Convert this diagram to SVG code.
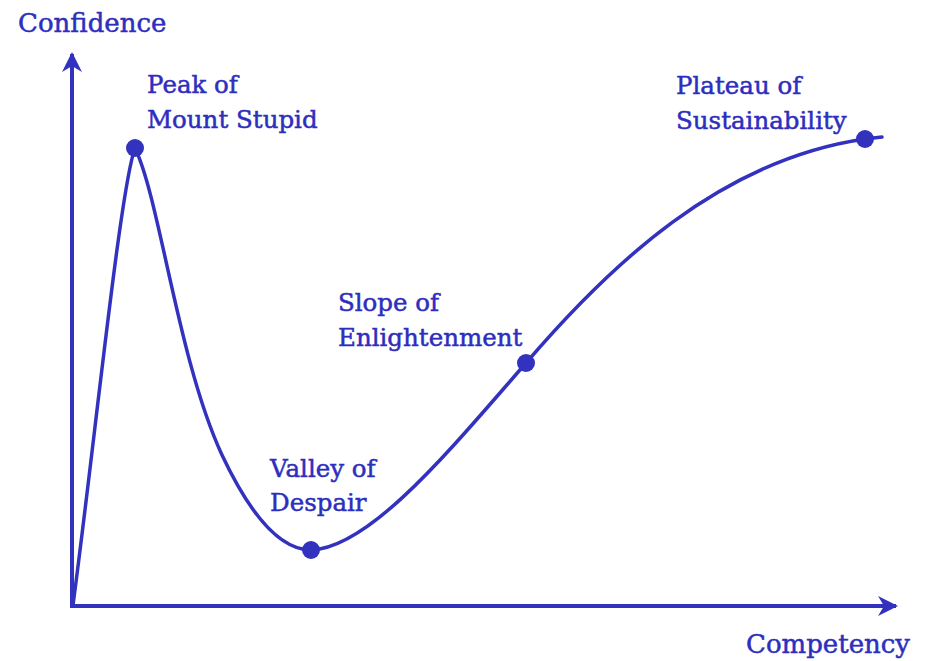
<svg xmlns="http://www.w3.org/2000/svg" width="930" height="661" viewBox="0 0 930 661">
<style>
.t{font-family:"DejaVu Serif","Liberation Serif",serif;font-size:24.5px;fill:#2e2ebe;stroke:#2e2ebe;stroke-width:0.5}
.axl{font-size:26px}
.ax{stroke:#3232be;stroke-width:4;fill:none}
.cv{stroke:#3232be;stroke-width:3.5;fill:none;stroke-linecap:round;stroke-linejoin:round}
.dot{fill:#3232be}
</style>
<defs>
<marker id="ah" viewBox="0 0 10 10" refX="9" refY="5" markerWidth="5" markerHeight="5" orient="auto" markerUnits="strokeWidth">
<path d="M0,0 L10,5 L0,10 L3,5 Z" fill="#3232be"/>
</marker>
</defs>
<rect width="930" height="661" fill="#fff"/>
<g id="axes">
<line class="ax" x1="72" y1="607" x2="72" y2="54" marker-end="url(#ah)"/>
<line class="ax" x1="70" y1="606" x2="896" y2="606" marker-end="url(#ah)"/>
<text class="t axl" x="18" y="32">Confidence</text>
<text class="t axl" x="746" y="653">Competency</text>
</g>
<g id="connectors">
<path class="cv" d="M73,605 C95,440 120,190 135,148 C160,200 178,360 222,455 C255,525 285,550 311,550 C370,548 450,450 526,363 C610,265 720,160 865,139 L882,137"/>
</g>
<g id="peak">
<circle class="dot" cx="135" cy="148" r="9"/>
<text class="t" x="147" y="93">Peak of</text>
<text class="t" x="147" y="128">Mount Stupid</text>
</g>
<g id="valley">
<circle class="dot" cx="311" cy="550" r="9"/>
<text class="t" x="270" y="477">Valley of</text>
<text class="t" x="270" y="511">Despair</text>
</g>
<g id="slope">
<circle class="dot" cx="526" cy="363" r="9"/>
<text class="t" x="338" y="311">Slope of</text>
<text class="t" x="338" y="346">Enlightenment</text>
</g>
<g id="plateau">
<circle class="dot" cx="865" cy="139" r="9"/>
<text class="t" x="676" y="94">Plateau of</text>
<text class="t" x="676" y="129">Sustainability</text>
</g>
</svg>
